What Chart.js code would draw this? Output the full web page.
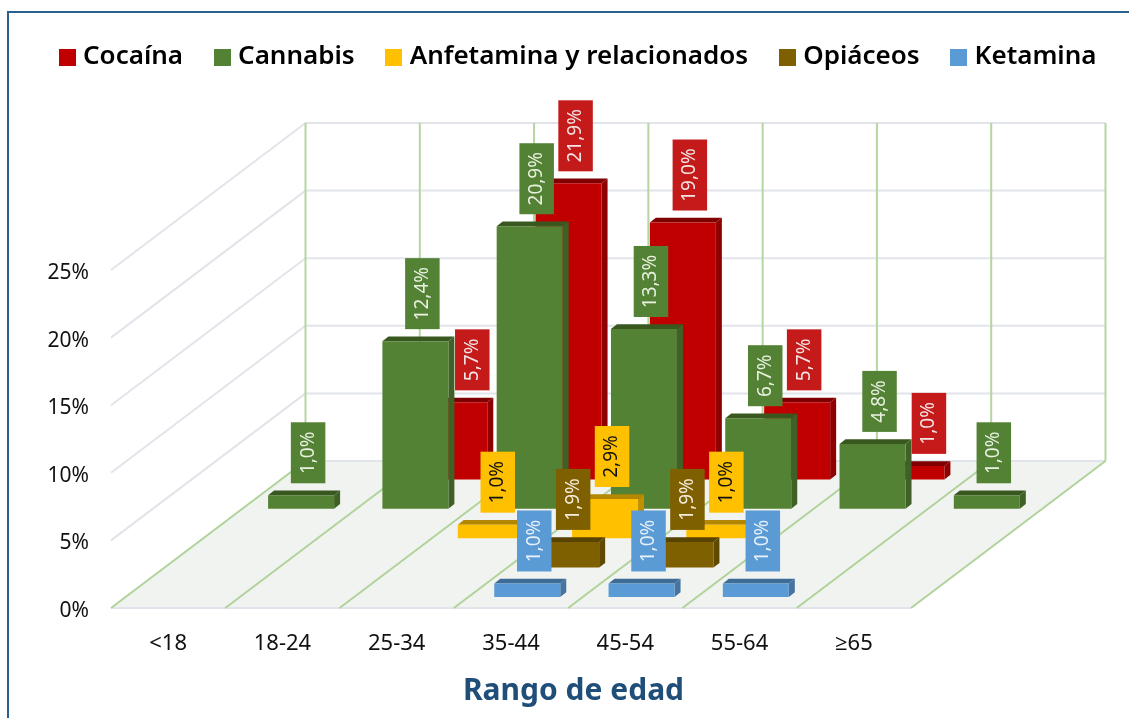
<!DOCTYPE html>
<html lang="es">
<head>
<meta charset="utf-8">
<title>Rango de edad</title>
<style>
html,body{margin:0;padding:0;background:#fff;overflow:hidden;width:1129px;height:718px}
#frame{position:absolute;left:7px;top:11px;width:1200px;height:800px;border:2px solid #2B5F8E;box-sizing:border-box}
#c{position:absolute;left:0;top:0}
</style>
<script src="https://cdn.jsdelivr.net/npm/chart.js@4/dist/chart.umd.js"></script>
</head>
<body>
<div id="frame"></div>
<canvas id="c" width="1129" height="718"></canvas>
<script>
const categories = ['<18','18-24','25-34','35-44','45-54','55-64','≥65'];
const seriesNames = ['Cocaína','Cannabis','Anfetamina y relacionados','Opiáceos','Ketamina'];
const cocaina    = [null, 5.7, 21.9, 19.0, 5.7, 1.0, null];
const cannabis   = [1.0, 12.4, 20.9, 13.3, 6.7, 4.8, 1.0];
const anfetamina = [null, null, 1.0, 2.9, 1.0, null, null];
const opiaceos   = [null, null, null, 1.9, 1.9, null, null];
const ketamina   = [null, null, null, 1.0, 1.0, 1.0, null];
const seriesValues = [cocaina, cannabis, anfetamina, opiaceos, ketamina];
const frontColors = ['#C00000','#548235','#FFC000','#7F6000','#5B9BD5'];
const topColors   = ['#7E0000','#39581F','#B38700','#584300','#3F6C96'];
const sideColors  = ['#8F0000','#3F6126','#C09000','#5F4800','#44749F'];
const labelBoxes  = ['#C41A1A','#548235','#FFC000','#7F6000','#5B9BD5'];
const labelInks   = ['#F4E6E6','#E8F0E0','#111111','#F5EEDC','#E6F0FA'];
const depthRows   = [4,3,2,1,0];
const yTicks = [0,5,10,15,20,25];

const FONT = '"Noto Sans", "Open Sans", sans-serif';
const WALL_DX = 194.5, WALL_DY = 147;      // floor depth in pixels
const ROW_DY = WALL_DY/5, ROW_PAD = 3.7;   // one depth row
const BAR_DX = 6, BAR_DY = 4.7;            // thickness of a bar
const LABEL_SHIFT = {'0:1':11, '0:5':10.5}; // labels moved aside in the original

const rowOffset = row => {
  const dy = ROW_DY*(row+0.5) - ROW_PAD;
  return {dx: dy*WALL_DX/WALL_DY + 1.7, dy};
};
const poly = (ctx, pts, fill) => {
  ctx.beginPath();
  pts.forEach((p,i)=> i?ctx.lineTo(p[0],p[1]):ctx.moveTo(p[0],p[1]));
  ctx.closePath();
  ctx.fillStyle = fill;
  ctx.fill();
};
const seg = (ctx,x0,y0,x1,y1,color,w) => {
  ctx.beginPath();ctx.moveTo(x0,y0);ctx.lineTo(x1,y1);
  ctx.strokeStyle=color;ctx.lineWidth=w;ctx.stroke();
};
const swatch = color => {
  const s=document.createElement('canvas');
  s.width=17;s.height=17;
  const g=s.getContext('2d');g.fillStyle=color;g.fillRect(0,0,17,17);
  return s;
};

const scene3d = {
  id:'scene3d',
  beforeLayout(chart){
    const lg=chart.legend;
    if(lg && !lg._wrapped){
      const f=lg.fit;
      lg.fit=function(){
        const w=this.maxWidth;
        this.maxWidth=1400;
        f.call(this);
        this.maxWidth=w;
        this.width=w;
        this.height=270-8;
      };
      lg._wrapped=true;
    }
  },
  afterLayout(chart){ chart.legend.left = 28; chart.legend.right = 1400; },
  afterDatasetsUpdate(chart){
    chart.data.datasets.forEach((ds,i)=>{
      const {dx,dy}=rowOffset(ds.depthRow);
      chart.getDatasetMeta(i).data.forEach(el=>{
        el.x+=dx; el.y-=dy; el.base-=dy;
      });
    });
  },
  beforeDatasetsDraw(chart){
    const {ctx,scales:{x,y}}=chart;
    const n=categories.length, y0=y.getPixelForValue(0), yTop=y.getPixelForValue(25);
    const xL=x.left, xR=x.right, step=(xR-xL)/n;
    ctx.save();
    poly(ctx,[[xL,y0],[xR,y0],[xR+WALL_DX,y0-WALL_DY],[xL+WALL_DX,y0-WALL_DY]],'#F1F3F0');
    const gray='#E1E4EA', green='#B5D6A0';
    yTicks.forEach(v=>{
      const p=y.getPixelForValue(v);
      seg(ctx,xL+WALL_DX,p-WALL_DY,xR+WALL_DX,p-WALL_DY,gray,2);
      if(v>0) seg(ctx,xL,p,xL+WALL_DX,p-WALL_DY,gray,2);
    });
    seg(ctx,xL,y0,xR,y0,gray,2);
    for(let k=0;k<=n;k++){
      const bx=xL+k*step;
      seg(ctx,bx+WALL_DX,y0-WALL_DY,bx+WALL_DX,yTop-WALL_DY,green,2);
      seg(ctx,bx,y0,bx+WALL_DX,y0-WALL_DY,'#AFD39A',2);
    }
    ctx.restore();
  },
  beforeDatasetDraw(chart,{index,meta}){
    const ctx=chart.ctx;
    const vals=chart.data.datasets[index].data;
    ctx.save();
    meta.data.forEach((el,j)=>{
      if(vals[j]===null) return;
      const l=el.x-el.width/2,r=el.x+el.width/2;
      poly(ctx,[[l,el.y],[r,el.y],[r+BAR_DX,el.y-BAR_DY],[l+BAR_DX,el.y-BAR_DY]],topColors[index]);
      poly(ctx,[[r,el.y],[r+BAR_DX,el.y-BAR_DY],[r+BAR_DX,el.base-BAR_DY],[r,el.base]],sideColors[index]);
    });
    ctx.restore();
  },
  afterDatasetsDraw(chart){
    const ctx=chart.ctx;
    ctx.save();
    ctx.font='19px '+FONT;
    ctx.textAlign='center';
    ctx.textBaseline='middle';
    chart.data.datasets.forEach((ds,i)=>{
      chart.getDatasetMeta(i).data.forEach((el,j)=>{
        const v=ds.data[j];
        if(v===null) return;
        const txt=v.toFixed(1).replace('.',',')+'%';
        const h=Math.round(ctx.measureText(txt).width)+18;
        const w=34.5, cx=el.x+7+(LABEL_SHIFT[i+':'+j]||0), bottom=el.y-12;
        ctx.fillStyle=labelBoxes[i];
        ctx.fillRect(cx-w/2,bottom-h,w,h);
        ctx.save();
        ctx.translate(cx,bottom-h/2);
        ctx.rotate(-Math.PI/2);
        ctx.fillStyle=labelInks[i];
        ctx.fillText(txt,0,0);
        ctx.restore();
      });
    });
    ctx.restore();
  }
};

new Chart(document.getElementById('c'),{
  type:'bar',
  plugins:[scene3d],
  data:{
    labels:categories,
    datasets:seriesNames.map((name,i)=>({
      label:name,
      data:seriesValues[i],
      backgroundColor:frontColors[i],
      borderWidth:0,
      grouped:false,
      categoryPercentage:1,
      barPercentage:0.5775,
      clip:false,
      order:depthRows[i],
      depthRow:depthRows[i]
    }))
  },
  options:{
    responsive:false,
    animation:false,
    events:[],
    layout:{padding:{left:18,right:0,top:8,bottom:0}},
    plugins:{
      tooltip:{enabled:false},
      legend:{
        display:true,
        position:'top',
        align:'start',
        labels:{
          usePointStyle:true,
          boxWidth:6,
          boxHeight:18,
          padding:36,
          color:'#000',
          font:{family:FONT,size:26,weight:'600'},
          sort:(a,b)=>a.datasetIndex-b.datasetIndex,
          generateLabels(chart){
            return Chart.defaults.plugins.legend.labels.generateLabels(chart).map(it=>{
              it.pointStyle=swatch(frontColors[it.datasetIndex]);
              return it;
            });
          }
        }
      },
      title:{
        display:true,
        position:'bottom',
        text:'Rango de edad',
        color:'#1F4E79',
        font:{family:FONT,size:30,weight:'700'},
        padding:{top:0,bottom:9}
      }
    },
    scales:{
      x:{
        type:'category',
        offset:true,
        grid:{display:false},
        border:{display:false},
        ticks:{color:'#111',font:{family:FONT,size:22},padding:15,maxRotation:0,minRotation:0,autoSkip:false},
        afterFit(s){ s.height=110-s.chart.titleBlock.height; }
      },
      y:{
        type:'linear',
        position:'left',
        min:0,max:25,
        grid:{display:false,drawTicks:false},
        border:{display:false},
        ticks:{stepSize:5,color:'#111',padding:22,labelOffset:3,font:{family:FONT,size:21},callback:v=>v+'%'},
        afterFit(s){ s.width=93; }
      },
      wallSpace:{
        type:'linear',
        position:'right',
        display:true,
        grid:{display:false},
        border:{display:false},
        ticks:{display:false},
        afterFit(s){ s.width=218; }
      }
    }
  }
});
</script>
</body>
</html>
